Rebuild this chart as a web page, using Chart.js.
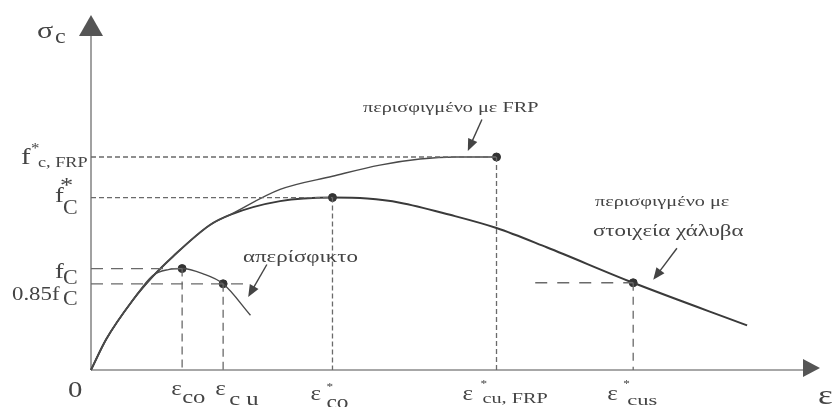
<!DOCTYPE html>
<html>
<head>
<meta charset="utf-8">
<script src="https://cdn.jsdelivr.net/npm/chart.js@4.4.1/dist/chart.umd.min.js"></script>
<style>
  html, body { margin: 0; padding: 0; background: #fff; }
  #wrap { width: 838px; height: 407px; }
</style>
</head>
<body>
<div id="wrap"><canvas id="chart" width="838" height="407"></canvas></div>
<script>
// schematic units: strain along x, stress relative to fc along y
const xMax = 16;
const yMax = 3.5;

// unconfined concrete (απερίσφικτο)
const unconfX = [0, 0.33, 0.92, 1.35, 1.7, 2.0, 2.45, 2.9, 3.5];
const unconfY = [0, 0.30, 0.69, 0.93, 0.99, 1.0, 0.95, 0.85, 0.54];

// ascending branch shared by both confined curves
const riseX = [0, 0.33, 0.92, 1.35, 1.8, 2.61, 3.05];
const riseY = [0, 0.30, 0.69, 0.92, 1.12, 1.43, 1.53];

// confined with FRP
const frpX = [4.15, 5.3, 6.34, 7.22, 8.0, 8.9];
const frpY = [1.78, 1.91, 2.02, 2.08, 2.10, 2.10];

// confined with steel
const steelX = [4.15, 5.3, 6.06, 6.78, 7.88, 8.9, 10.0, 11.9, 14.4];
const steelY = [1.665, 1.70, 1.69, 1.65, 1.53, 1.40, 1.21, 0.86, 0.44];

// marked points: εco, εcu, ε*co, ε*cu,FRP, ε*cus
const keyX = [2.0, 2.9, 5.3, 8.9, 11.9];
const keyY = [1.0, 0.85, 1.70, 2.10, 0.86];

const toPts = (xs, ys) => xs.map((x, i) => ({ x: x, y: ys[i] }));

const guideColor = "#6a6a6a";
const textColor = "#444";
const serif = '"Liberation Serif", "DejaVu Serif", serif';

function curve(label, pts, width, color) {
  return {
    label: label,
    data: pts,
    showLine: true,
    borderColor: color,
    borderWidth: width,
    pointRadius: 0,
    cubicInterpolationMode: "monotone",
    fill: false,
    clip: false
  };
}

function guide(pts, dash) {
  return {
    data: pts,
    showLine: true,
    borderColor: guideColor,
    borderWidth: 1.3,
    borderDash: dash,
    pointRadius: 0,
    tension: 0,
    fill: false,
    clip: false
  };
}

const datasets = [
  // horizontal guides from the stress axis
  guide([{ x: 0, y: keyY[3] }, { x: keyX[3], y: keyY[3] }], [5, 3]),
  guide([{ x: 0, y: keyY[2] }, { x: keyX[2], y: keyY[2] }], [5, 3]),
  guide([{ x: 0, y: keyY[0] }, { x: keyX[0], y: keyY[0] }], [12, 8]),
  guide([{ x: 0, y: keyY[1] }, { x: 3.4, y: keyY[1] }], [12, 8]),
  guide([{ x: 9.75, y: keyY[4] }, { x: keyX[4], y: keyY[4] }], [12, 10]),
  // vertical guides down to the strain axis
  guide([{ x: keyX[0], y: keyY[0] }, { x: keyX[0], y: 0 }], [8, 5]),
  guide([{ x: keyX[1], y: keyY[1] }, { x: keyX[1], y: 0 }], [8, 5]),
  guide([{ x: keyX[2], y: keyY[2] }, { x: keyX[2], y: 0 }], [5, 3]),
  guide([{ x: keyX[3], y: keyY[3] }, { x: keyX[3], y: 0 }], [5, 3]),
  guide([{ x: keyX[4], y: keyY[4] }, { x: keyX[4], y: 0 }], [8, 6]),
  // curves
  curve("απερίσφικτο", toPts(unconfX, unconfY), 1.4, "#4a4a4a"),
  curve("περισφιγμένο με FRP", toPts(riseX.concat(frpX), riseY.concat(frpY)), 1.4, "#4a4a4a"),
  curve("περισφιγμένο με στοιχεία χάλυβα", toPts(riseX.concat(steelX), riseY.concat(steelY)), 2, "#3a3a3a"),
  {
    data: toPts(keyX, keyY),
    showLine: false,
    pointRadius: 4,
    pointBackgroundColor: "#333",
    pointBorderColor: "#333",
    clip: false
  }
];

function arrow(ctx, x1, y1, x2, y2) {
  const a = Math.atan2(y2 - y1, x2 - x1);
  const len = 12, w = 5;
  ctx.beginPath();
  ctx.moveTo(x1, y1);
  ctx.lineTo(x2 - Math.cos(a) * len * 0.8, y2 - Math.sin(a) * len * 0.8);
  ctx.stroke();
  ctx.beginPath();
  ctx.moveTo(x2, y2);
  ctx.lineTo(x2 - Math.cos(a) * len - Math.sin(a) * w, y2 - Math.sin(a) * len + Math.cos(a) * w);
  ctx.lineTo(x2 - Math.cos(a) * len + Math.sin(a) * w, y2 - Math.sin(a) * len - Math.cos(a) * w);
  ctx.closePath();
  ctx.fill();
}

// scanned figure is stretched sideways, so text gets a horizontal scale
function txt(ctx, s, x, y, size, sx) {
  ctx.save();
  ctx.font = size + "px " + serif;
  ctx.translate(x, y);
  ctx.scale(sx || 1.2, 1);
  ctx.fillText(s, 0, 0);
  ctx.restore();
}

const axesPlugin = {
  id: "axesPlugin",
  beforeDatasetsDraw(chart) {
    const { ctx, scales: { x, y } } = chart;
    const x0 = x.getPixelForValue(0), y0 = y.getPixelForValue(0);
    const xe = x.getPixelForValue(xMax), ye = y.getPixelForValue(yMax);
    ctx.save();
    ctx.strokeStyle = "#8a8a8a";
    ctx.fillStyle = "#555";
    ctx.lineWidth = 1.6;
    ctx.beginPath();
    ctx.moveTo(x0, y0);
    ctx.lineTo(x0, ye + 18);
    ctx.moveTo(x0, y0);
    ctx.lineTo(xe - 14, y0);
    ctx.stroke();
    // arrow heads
    ctx.beginPath();
    ctx.moveTo(x0, ye);
    ctx.lineTo(x0 - 12, ye + 21);
    ctx.lineTo(x0 + 12, ye + 21);
    ctx.closePath();
    ctx.fill();
    ctx.beginPath();
    ctx.moveTo(xe, y0 - 2);
    ctx.lineTo(xe - 17, y0 - 11);
    ctx.lineTo(xe - 17, y0 + 7);
    ctx.closePath();
    ctx.fill();
    ctx.restore();
  },
  afterDatasetsDraw(chart) {
    const { ctx, scales: { x, y } } = chart;
    const px = v => x.getPixelForValue(v);
    const py = v => y.getPixelForValue(v);
    const x0 = px(0), y0 = py(0);
    ctx.save();
    ctx.fillStyle = textColor;
    ctx.textAlign = "left";
    ctx.textBaseline = "alphabetic";

    // stress axis title
    txt(ctx, "σ", 37, py(yMax) + 23, 24, 1.25);
    txt(ctx, "c", 55, py(yMax) + 28, 20, 1.2);

    // stress labels
    let t = py(keyY[3]);
    txt(ctx, "f", 21, t + 7, 24);
    txt(ctx, "*", 31, t - 4, 14);
    txt(ctx, "c, FRP", 38, t + 10, 14, 1.3);
    t = py(keyY[2]);
    txt(ctx, "f", 55, t + 4, 22);
    txt(ctx, "*", 60, t - 6, 22);
    txt(ctx, "C", 63, t + 16, 20, 1.1);
    t = py(keyY[0]);
    txt(ctx, "f", 55, t + 9, 22);
    txt(ctx, "C", 63, t + 15, 20, 1.1);
    t = py(keyY[1]);
    txt(ctx, "0.85f", 12, t + 16, 19, 1.2);
    txt(ctx, "C", 63, t + 21, 20, 1.1);

    // strain labels
    txt(ctx, "0", x0 - 23, y0 + 27, 23, 1.25);
    t = px(keyX[0]);
    txt(ctx, "ε", t - 11, y0 + 25, 21);
    txt(ctx, "co", t, y0 + 33, 19, 1.3);
    t = px(keyX[1]);
    txt(ctx, "ε", t - 8, y0 + 25, 21);
    txt(ctx, "c u", t + 6, y0 + 35, 19, 1.3);
    t = px(keyX[2]);
    txt(ctx, "ε", t - 22, y0 + 30, 21);
    txt(ctx, "*", t - 6, y0 + 20, 11);
    txt(ctx, "co", t - 6, y0 + 38, 18, 1.3);
    t = px(keyX[3]);
    txt(ctx, "ε", t - 34, y0 + 30, 21);
    txt(ctx, "*", t - 16, y0 + 17, 11);
    txt(ctx, "cu, FRP", t - 14, y0 + 33, 15, 1.35);
    t = px(keyX[4]);
    txt(ctx, "ε", t - 26, y0 + 30, 21);
    txt(ctx, "*", t - 10, y0 + 17, 11);
    txt(ctx, "cus", t - 6, y0 + 35, 15, 1.5);
    txt(ctx, "ε", px(xMax) - 2, y0 + 34, 27, 1.3);

    // curve notes
    txt(ctx, "περισφιγμένο με FRP", 363, 112, 15, 1.35);
    txt(ctx, "περισφιγμένο με", 595, 206, 15, 1.35);
    txt(ctx, "στοιχεία χάλυβα", 593, 236, 17, 1.35);
    txt(ctx, "απερίσφικτο", 243, 262, 17, 1.35);

    ctx.strokeStyle = "#444";
    ctx.fillStyle = "#444";
    ctx.lineWidth = 1.4;
    arrow(ctx, px(8.58), py(2.47), px(8.27), py(2.16));
    arrow(ctx, px(12.86), py(1.20), px(12.34), py(0.89));
    arrow(ctx, px(3.86), py(1.04), px(3.45), py(0.72));
    ctx.restore();
  }
};

new Chart(document.getElementById("chart"), {
  type: "scatter",
  data: { datasets: datasets },
  options: {
    responsive: false,
    animation: false,
    events: [],
    layout: { padding: { left: 91, right: 18, top: 15, bottom: 37 } },
    plugins: { legend: { display: false }, tooltip: { enabled: false } },
    scales: {
      x: { type: "linear", min: 0, max: xMax, display: false },
      y: { type: "linear", min: 0, max: yMax, display: false }
    }
  },
  plugins: [axesPlugin]
});
</script>
</body>
</html>
